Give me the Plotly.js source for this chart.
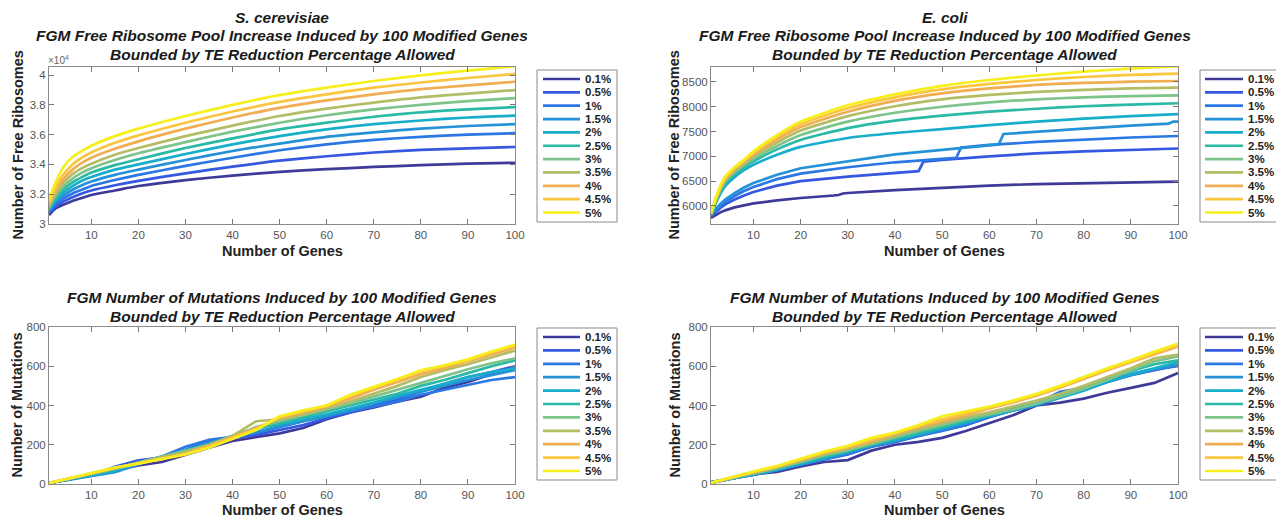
<!DOCTYPE html>
<html><head><meta charset="utf-8">
<script src="https://cdn.plot.ly/plotly-3.0.1.min.js"></script>
<style>html,body{margin:0;padding:0;background:#fff}#chart{width:1276px;height:518px}</style>
</head><body><div id="chart"></div>
<script>
// ---------- labels & colours ----------
const labels = ['0.1%','0.5%','1%','1.5%','2%','2.5%','3%','3.5%','4%','4.5%','5%'];
const colors = ['#3f3a9a','#3558e0','#2b78e4','#2592d8','#18aecb','#2ab9a5','#7dc38a','#b3bd66','#f0ad52','#fac640','#f7ef1c'];

// ---------- S. cerevisiae free ribosomes ----------
const genesTop = [1,2,3,4,6,8,10,15,20,30,40,50,60,70,80,90,100];
const sc01 = [30600,30950,31150,31300,31550,31750,31950,32250,32550,32950,33250,33500,33680,33830,33950,34050,34110];
const sc05 = [30700,31050,31300,31500,31800,32050,32250,32600,32900,33400,33850,34250,34550,34800,34970,35080,35170];
const sc1  = [30800,31200,31450,31700,32050,32300,32550,32950,33300,33900,34450,34950,35350,35650,35850,36000,36100];
const sc15 = [30900,31350,31650,31900,32300,32600,32850,33300,33650,34300,34900,35400,35850,36150,36400,36580,36700];
const sc2  = [30950,31450,31800,32100,32550,32900,33150,33650,34000,34700,35350,35900,36350,36700,36950,37150,37270];
const sc25 = [31000,31550,31950,32300,32800,33150,33450,33950,34350,35100,35750,36350,36800,37200,37500,37700,37850];
const sc3  = [31100,31700,32150,32500,33050,33450,33750,34300,34750,35500,36200,36800,37300,37700,38000,38250,38450];
const sc35 = [31200,31850,32350,32750,33350,33750,34050,34650,35100,35900,36600,37250,37750,38150,38500,38750,38990];
const sc4  = [31300,32000,32550,33000,33650,34100,34450,35050,35550,36400,37150,37800,38300,38700,39050,39300,39550];
const sc45 = [31400,32200,32800,33300,34000,34450,34800,35450,35950,36800,37550,38200,38700,39150,39500,39800,40070];
const sc5  = [31600,32500,33200,33800,34500,34900,35250,35900,36400,37250,38000,38650,39150,39600,39980,40300,40600];

// ---------- E. coli free ribosomes ----------
const ec01Genes = [1,2,3,4,6,8,10,15,20,27,28,29,30,40,50,60,70,80,90,100];
const ec01 = [5760,5820,5870,5910,5970,6010,6050,6110,6160,6210,6220,6250,6260,6320,6370,6410,6440,6460,6480,6490];
const ec05Genes = [1,2,3,4,6,8,10,15,20,30,40,45,46,50,60,70,80,90,100];
const ec05 = [5790,5880,5960,6030,6130,6210,6280,6410,6500,6590,6660,6700,6890,6930,7000,7060,7100,7130,7158];
const ec1Genes = [1,2,3,4,6,8,10,15,20,30,40,50,53,54,60,70,80,90,100];
const ec1 = [5800,5910,6000,6080,6200,6300,6380,6540,6650,6780,6880,6950,6970,7180,7230,7290,7340,7380,7410];
const ec15Genes = [1,2,3,4,6,8,10,15,20,30,40,50,62,63,70,80,90,98,99,100];
const ec15 = [5810,5940,6040,6130,6260,6370,6460,6630,6760,6900,7040,7130,7240,7450,7500,7560,7620,7660,7700,7700];
const ec2  = [5820,6050,6250,6400,6580,6720,6830,7030,7190,7370,7470,7550,7630,7700,7760,7810,7853];
const ec25 = [5830,6080,6290,6450,6640,6780,6900,7140,7330,7570,7720,7820,7900,7960,8010,8045,8071];
const ec3  = [5835,6100,6320,6490,6680,6820,6950,7210,7430,7700,7880,8000,8090,8150,8190,8215,8228];
const ec35 = [5840,6120,6350,6520,6710,6860,7000,7280,7520,7810,8010,8150,8240,8300,8340,8370,8384];
const ec4  = [5845,6130,6370,6550,6740,6890,7040,7340,7590,7900,8120,8270,8370,8440,8480,8505,8520];
const ec45 = [5848,6140,6390,6570,6760,6910,7070,7390,7650,7970,8190,8350,8460,8540,8600,8645,8670];
const ec5  = [5850,6160,6410,6590,6780,6930,7100,7430,7700,8030,8250,8420,8540,8630,8710,8770,8820];

// ---------- Number of mutations ----------
const genesMut = [1,5,10,15,20,25,30,35,40,45,50,55,60,65,70,75,80,85,90,95,100];
const scm01 = [5,25,48,70,95,112,150,185,220,238,258,285,330,365,390,420,445,490,520,560,595];
const scm05 = [5,22,45,88,120,135,175,220,235,250,275,300,335,365,400,430,470,510,545,570,600];
const scm1  = [5,22,45,65,110,140,190,225,240,260,290,320,345,370,395,420,455,480,505,530,545];
const scm15 = [5,20,42,60,100,135,170,210,240,265,295,320,345,375,410,440,470,500,530,555,580];
const scm2  = [5,22,45,68,105,140,172,205,245,285,305,330,355,385,415,450,480,510,545,570,590];
const scm25 = [5,24,48,75,108,140,170,200,245,280,310,340,370,400,430,460,500,530,565,600,630];
const scm3  = [5,25,50,78,110,140,168,198,240,290,320,350,380,410,445,480,515,550,585,615,640];
const scm35 = [5,26,52,80,105,135,160,200,245,320,330,355,385,420,460,500,545,580,610,645,680];
const scm4  = [5,27,54,82,105,130,155,195,240,285,335,365,395,435,480,520,560,590,625,660,695];
const scm45 = [5,28,55,83,105,128,152,190,235,280,340,370,400,450,490,530,575,600,630,670,705];
const scm5  = [5,28,56,84,104,126,150,185,230,275,345,375,400,455,495,535,580,605,635,675,710];

const ecm01 = [5,25,50,62,90,112,122,170,200,215,235,270,310,350,400,415,435,465,490,515,565];
const ecm05 = [10,26,48,72,100,125,150,190,215,245,275,300,340,375,405,445,480,520,555,580,605];
const ecm1  = [10,26,46,70,98,125,155,190,215,245,270,300,350,385,410,470,490,530,560,585,600];
const ecm15 = [8,25,45,70,100,128,160,195,220,250,280,310,345,375,400,440,480,520,555,585,610];
const ecm2  = [8,26,48,73,105,133,165,200,225,255,285,315,345,375,405,440,475,520,560,590,620];
const ecm25 = [6,28,52,78,110,140,168,200,230,260,290,320,350,380,410,450,490,540,575,610,630];
const ecm3  = [6,28,54,80,112,145,172,205,240,270,300,330,355,380,410,445,485,530,580,625,650];
const ecm35 = [6,30,56,84,118,152,180,210,245,280,310,340,365,395,425,460,500,545,590,640,660];
const ecm4  = [6,32,60,88,122,158,185,220,255,290,320,350,385,415,450,490,535,580,620,660,700];
const ecm45 = [6,32,62,90,125,162,190,225,258,295,330,360,390,420,455,495,540,585,625,665,705];
const ecm5  = [6,33,64,92,128,165,195,235,262,300,345,370,395,425,460,500,545,590,630,675,715];

// ---------- axis ticks ----------
const xTicks = [10,20,30,40,50,60,70,80,90,100];
const scRiboTicks = [30000,32000,34000,36000,38000,40000];
const scRiboTickText = ['3','3.2','3.4','3.6','3.8','4'];
const ecRiboTicks = [6000,6500,7000,7500,8000,8500];
const mutTicks = [0,200,400,600,800];

// ---------- titles ----------
const riboTitle = ['FGM Free Ribosome Pool Increase Induced by 100 Modified Genes','Bounded by TE Reduction Percentage Allowed'];
const mutTitle = ['FGM Number of Mutations Induced by 100 Modified Genes','Bounded by TE Reduction Percentage Allowed'];

// ---------- build ----------
const W = 1276, H = 518;
const px = v => v / W, py = v => 1 - v / H;
const FONT = 'Liberation Sans, Arial, Helvetica, sans-serif';

const panels = [
  {xa:'x',  ya:'y',  xs: Array(11).fill(genesTop),
   ys:[sc01,sc05,sc1,sc15,sc2,sc25,sc3,sc35,sc4,sc45,sc5], jump:[]},
  {xa:'x2', ya:'y2', xs:[ec01Genes,ec05Genes,ec1Genes,ec15Genes].concat(Array(7).fill(genesTop)),
   ys:[ec01,ec05,ec1,ec15,ec2,ec25,ec3,ec35,ec4,ec45,ec5], jump:[0,1,2,3]},
  {xa:'x3', ya:'y3', xs: Array(11).fill(genesMut),
   ys:[scm01,scm05,scm1,scm15,scm2,scm25,scm3,scm35,scm4,scm45,scm5], jump:'all'},
  {xa:'x4', ya:'y4', xs: Array(11).fill(genesMut),
   ys:[ecm01,ecm05,ecm1,ecm15,ecm2,ecm25,ecm3,ecm35,ecm4,ecm45,ecm5], jump:'all'}
];

const traces = [];
panels.forEach(p => {
  p.ys.forEach((y, i) => {
    const linear = p.jump === 'all' || p.jump.indexOf(i) >= 0;
    traces.push({
      type:'scatter', mode:'lines', x:p.xs[i], y:y, name:labels[i],
      xaxis:p.xa, yaxis:p.ya, showlegend:false, cliponaxis:true,
      line:{color:colors[i], width:2.7, shape: linear ? 'linear' : 'spline', smoothing:0.6}
    });
  });
});

const plotBoxes = [
  {l:49, r:515, t:67, b:224},
  {l:711, r:1178, t:67, b:224},
  {l:49, r:515, t:327, b:484},
  {l:711, r:1178, t:327, b:484}
];

function xAxis(box, anchor){
  return {domain:[px(box.l), px(box.r)], anchor:anchor, range:[1,100], tickvals:xTicks,
    ticks:'inside', ticklen:5, tickcolor:'#777', mirror:'ticks', showline:true, linecolor:'#8a8a8a',
    linewidth:1, showgrid:false, zeroline:false, tickfont:{family:FONT, size:11.5, color:'#555'}};
}
function yAxis(box, anchor, range, vals, text){
  const a = {domain:[py(box.b), py(box.t)], anchor:anchor, range:range, tickvals:vals,
    ticks:'inside', ticklen:5, tickcolor:'#777', mirror:'ticks', showline:true, linecolor:'#8a8a8a',
    linewidth:1, showgrid:false, zeroline:false, tickfont:{family:FONT, size:11.5, color:'#555'}};
  if (text) a.ticktext = text;
  return a;
}

const annotations = [];
const shapes = [];
const titleFont = {family:FONT, size:15.5, color:'#1a1a1a'};
const axisFont = {family:FONT, size:14.5, color:'#222'};
function addText(text, x, y, opts){
  annotations.push(Object.assign({text:text, x:px(x), y:py(y), xref:'paper', yref:'paper',
    showarrow:false, xanchor:'center', yanchor:'middle', font:titleFont}, opts||{}));
}
const bi = s => '<b><i>' + s + '</i></b>';
// titles (one annotation per line for MATLAB-like tight spacing)
addText(bi('S. cerevisiae'), 282, 17);
addText(bi(riboTitle[0]), 282, 36);
addText(bi(riboTitle[1]), 282, 54.5);
addText(bi('E. coli'), 944.5, 17);
addText(bi(riboTitle[0]), 944.5, 36);
addText(bi(riboTitle[1]), 944.5, 54.5);
addText(bi(mutTitle[0]), 282, 297.5);
addText(bi(mutTitle[1]), 282, 316);
addText(bi(mutTitle[0]), 944.5, 297.5);
addText(bi(mutTitle[1]), 944.5, 316);
// axis titles
addText('<b>Number of Genes</b>', 282, 251, {font:axisFont});
addText('<b>Number of Genes</b>', 944.5, 251, {font:axisFont});
addText('<b>Number of Genes</b>', 282, 510, {font:axisFont});
addText('<b>Number of Genes</b>', 944.5, 510, {font:axisFont});
addText('<b>Number of Free Ribosomes</b>', 18, 145.5, {textangle:-90, font:axisFont});
addText('<b>Number of Free Ribosomes</b>', 674, 145.5, {textangle:-90, font:axisFont});
addText('<b>Number of Mutations</b>', 16, 405.5, {textangle:-90, font:axisFont});
addText('<b>Number of Mutations</b>', 674, 405.5, {textangle:-90, font:axisFont});
// exponent
addText('×10<sup>4</sup>', 46, 60, {xanchor:'left', font:{family:FONT, size:10, color:'#666'}});

// legends (drawn manually to match compact MATLAB spacing)
const legends = [
  {bx0:537, bx1:617, by0:70, by1:222, lx0:543, lx1:580, tx:583, y0:79, dy:13.35},
  {bx0:1200, bx1:1282, by0:70, by1:222, lx0:1205, lx1:1243, tx:1246, y0:79, dy:13.35},
  {bx0:537, bx1:617, by0:328, by1:480, lx0:543, lx1:580, tx:583, y0:337, dy:13.4},
  {bx0:1200, bx1:1282, by0:328, by1:480, lx0:1205, lx1:1243, tx:1246, y0:337, dy:13.4}
];
legends.forEach(L => {
  shapes.push({type:'rect', xref:'paper', yref:'paper', x0:px(L.bx0), x1:px(L.bx1), y0:py(L.by0), y1:py(L.by1),
    line:{color:'#8a8a8a', width:1}, fillcolor:'rgba(255,255,255,0)'});
  labels.forEach((lab, i) => {
    const yy = L.y0 + i * L.dy;
    shapes.push({type:'line', xref:'paper', yref:'paper', x0:px(L.lx0), x1:px(L.lx1), y0:py(yy), y1:py(yy),
      line:{color:colors[i], width:2.7}});
    addText('<b>' + lab + '</b>', L.tx, yy, {xanchor:'left', font:{family:FONT, size:11.5, color:'#222'}});
  });
});

const layout = {
  width:W, height:H, margin:{l:0, r:0, t:0, b:0}, paper_bgcolor:'#fff', plot_bgcolor:'#fff',
  showlegend:false,
  xaxis: xAxis(plotBoxes[0], 'y'),
  yaxis: yAxis(plotBoxes[0], 'x', [30000, 40540], scRiboTicks, scRiboTickText),
  xaxis2: xAxis(plotBoxes[1], 'y2'),
  yaxis2: yAxis(plotBoxes[1], 'x2', [5635, 8802], ecRiboTicks),
  xaxis3: xAxis(plotBoxes[2], 'y3'),
  yaxis3: yAxis(plotBoxes[2], 'x3', [0, 800], mutTicks),
  xaxis4: xAxis(plotBoxes[3], 'y4'),
  yaxis4: yAxis(plotBoxes[3], 'x4', [0, 800], mutTicks),
  annotations: annotations, shapes: shapes
};

Plotly.newPlot('chart', traces, layout, {displayModeBar:false, staticPlot:true});
</script></body></html>
